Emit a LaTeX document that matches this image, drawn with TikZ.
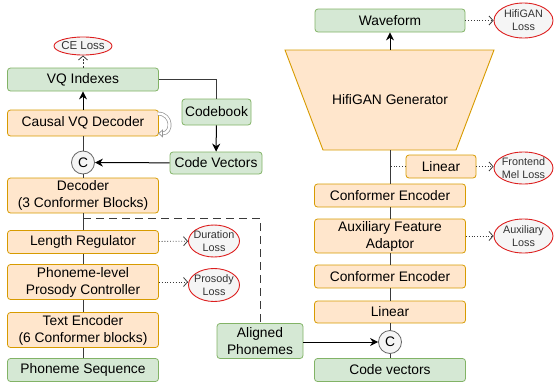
\documentclass[tikz,border=0pt]{standalone}
\usepackage{fontspec}
\setmainfont{Liberation Sans}
\usetikzlibrary{positioning,shapes,arrows.meta,calc}

\definecolor{orfill}{HTML}{FFE6CC}
\definecolor{ordraw}{HTML}{D79B00}
\definecolor{grfill}{HTML}{D5E8D4}
\definecolor{grdraw}{HTML}{82B366}
\definecolor{lossred}{HTML}{DD1F1F}
\definecolor{lossfill}{HTML}{F5F5F5}
\definecolor{lossgray}{HTML}{333333}
\definecolor{catdraw}{HTML}{666666}
\definecolor{linegray}{HTML}{3A3A3A}

\begin{document}
\begin{tikzpicture}[x=1pt, y=-1pt,
    box/.style={draw, line width=0.8pt, minimum width=151pt, minimum height=23pt, inner sep=0pt, align=center, rounded corners=3pt, font=\fontsize{13.8}{17}\selectfont},
    obox/.style={box, fill=orfill, draw=ordraw},
    gbox/.style={box, fill=grfill, draw=grdraw},
    loss/.style={ellipse, draw=lossred, fill=lossfill, line width=0.9pt, minimum width=59pt, minimum height=34pt, inner sep=-5pt, align=center, text=lossgray, font=\fontsize{10.8}{12.8}\selectfont},
    cat/.style={circle, draw=catdraw, fill=lossfill, line width=0.8pt, minimum size=23pt, inner sep=0pt, font=\fontsize{13.8}{17}\selectfont},
    line/.style={draw=linegray, line width=1pt},
    arrow/.style={line, draw=black, -{Stealth[length=8pt,width=8pt]}},
    lossarrow/.style={dotted, line width=0.8pt, draw=linegray, -{Straight Barb[length=4pt,width=9pt]}}]

    \useasboundingbox (0,0) rectangle (555,383);

    % Text front-end
    \node[gbox] (phseq) at (83,370) {Phoneme Sequence};
    \node[obox, minimum height=35pt] (textenc) at (83,330) {Text Encoder\\(6 Conformer blocks)};
    \node[obox, minimum height=35pt] (prosody) at (83,282) {Phoneme-level\\Prosody Controller};
    \node[obox] (lenreg) at (83,242) {Length Regulator};
    \node[obox, minimum height=35pt] (decoder) at (83,195.5) {Decoder\\(3 Conformer Blocks)};
    \node[cat] (catl) at (83,162.5) {C};
    \node[obox, minimum height=26pt] (causal) at (83,123) {Causal VQ Decoder};
    \node[gbox] (vqidx) at (83,79.5) {VQ Indexes};
    \node[loss, minimum width=58pt, minimum height=18pt, font=\fontsize{11.5}{13}\selectfont] (celoss) at (83,46) {CE Loss};

    % Codebook
    \node[gbox, minimum width=69pt, minimum height=26pt] (codebook) at (216.5,112) {Codebook};
    \node[gbox, minimum width=92pt, minimum height=22pt] (codevec) at (216,163) {Code Vectors};

    % Front-end losses
    \node[loss, minimum width=51pt, minimum height=32pt] (durloss) at (214,241) {Duration\\Loss};
    \node[loss, minimum width=51pt, minimum height=33pt] (prosloss) at (214,285) {Prosody\\Loss};

    % Aligned phonemes
    \node[gbox, minimum width=86pt, minimum height=35pt] (aligned) at (260,341) {Aligned\\Phonemes};

    % Vocoder
    \node[gbox] (codevecr) at (390,370) {Code vectors};
    \node[cat] (catr) at (390,342) {C};
    \node[obox, minimum height=22pt] (linear) at (390,312) {Linear};
    \node[obox] (confb) at (390,276.5) {Conformer Encoder};
    \node[obox, minimum height=34pt] (aux) at (390,236) {Auxiliary Feature\\Adaptor};
    \node[obox] (confa) at (390,195.5) {Conformer Encoder};
    \node[obox, minimum width=70pt] (linmel) at (441,166.5) {Linear};
    \node[gbox, minimum width=150pt] (wave) at (390,20.5) {Waveform};

    % HifiGAN generator
    \draw[fill=orfill, draw=ordraw, line width=0.9pt] (285,50) -- (494,50) -- (456,150) -- (323,150) -- cycle;
    \node[font=\fontsize{13.8}{17}\selectfont] (gen) at (390,100) {HifiGAN Generator};
    \coordinate (gentop) at (390,50);
    \coordinate (genbot) at (390,150);

    % Vocoder losses
    \node[loss, minimum height=35pt] (hifiloss) at (523.5,20.5) {HifiGAN\\Loss};
    \node[loss, minimum height=32pt] (melloss) at (523.5,168) {Frontend\\Mel Loss};
    \node[loss] (auxloss) at (523.5,236) {Auxiliary\\Loss};

    % Connect front-end
    \draw[line] (phseq) -- (textenc);
    \draw[line] (textenc) -- (prosody);
    \draw[line] (prosody) -- (lenreg);
    \draw[line] (lenreg) -- (decoder);
    \draw[line] (decoder) -- (catl);
    \draw[line] (catl) -- (causal);
    \draw[arrow] (causal) -- (vqidx);
    \draw[lossarrow, dotted=false, dash pattern=on 2pt off 1.5pt] (vqidx) -- (celoss);
    \draw[line] (vqidx.east) -| (codebook.north);
    \draw[arrow] (codebook) -- (codevec);
    \draw[arrow] (codevec) -- (catl);
    \draw[draw=gray!85, double=white, double distance=2.4pt, line width=0.7pt, -{Latex[open, length=5pt, width=9pt]}]
        ($(causal.north east)+(-1,4)$) to[out=0, in=0, looseness=1.9] ($(causal.south east)+(-1,-3)$);

    % Alignment branch
    \coordinate (dsplit) at (83,218);
    \draw[line, dash pattern=on 8pt off 5pt] (dsplit) -| (aligned.north);

    % Front-end losses
    \draw[lossarrow] (lenreg) -- (durloss);
    \draw[lossarrow] (prosody.east) -- (prosody.east -| prosloss.west);

    % Connect vocoder
    \draw[line] (codevecr) -- (catr);
    \draw[line] (catr) -- (linear);
    \draw[line] (linear) -- (confb);
    \draw[line] (confb) -- (aux);
    \draw[line] (aux) -- (confa);
    \draw[line] (confa) -- (genbot);
    \draw[arrow] (gentop) -- (wave);
    \draw[arrow] (aligned.east |- catr) -- (catr);
    \draw[dotted, line width=0.8pt, draw=linegray] (linmel.west) -- (linmel.west -| genbot);

    % Vocoder losses
    \draw[lossarrow] (wave) -- (hifiloss);
    \draw[lossarrow] (linmel) -- (linmel.east -| melloss.west);
    \draw[lossarrow] (aux) -- (auxloss);
\end{tikzpicture}
\end{document}
